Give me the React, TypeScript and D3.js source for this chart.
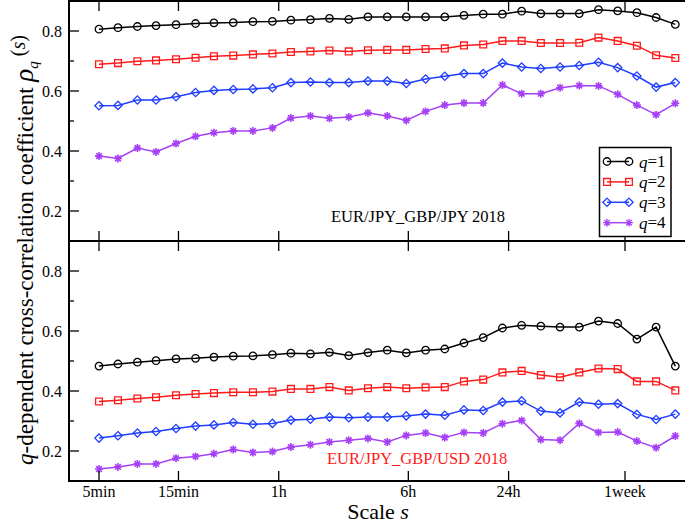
import * as d3 from 'd3';

// scale s in minutes (log-spaced sampling)
const SCALES = [5, 6.5, 8.5, 11, 14.5, 19, 24.5, 32, 42, 55, 71, 93, 121, 158, 206, 269, 350, 457, 596, 777, 1014, 1322, 1725, 2249, 2933, 3826, 4990, 6507, 8487, 11069, 14436];

const X_TICKS = [5, 15, 60, 360, 1440, 7200];
const X_TICK_LABELS = ['5min', '15min', '1h', '6h', '24h', '1week'];
const Y_MAJOR = [0.2, 0.4, 0.6, 0.8];
const Y_MINOR = [0.3, 0.5, 0.7];

const TOP_Q1 = [0.806, 0.811, 0.815, 0.818, 0.821, 0.825, 0.827, 0.828, 0.831, 0.832, 0.836, 0.838, 0.842, 0.839, 0.847, 0.847, 0.847, 0.847, 0.847, 0.852, 0.856, 0.856, 0.866, 0.858, 0.858, 0.858, 0.871, 0.867, 0.861, 0.845, 0.822];
const TOP_Q2 = [0.689, 0.693, 0.699, 0.702, 0.706, 0.711, 0.716, 0.718, 0.722, 0.725, 0.73, 0.732, 0.735, 0.732, 0.736, 0.737, 0.737, 0.74, 0.742, 0.752, 0.755, 0.767, 0.767, 0.76, 0.76, 0.761, 0.778, 0.767, 0.751, 0.719, 0.71];
const TOP_Q3 = [0.551, 0.552, 0.57, 0.57, 0.581, 0.595, 0.602, 0.605, 0.607, 0.611, 0.628, 0.63, 0.628, 0.628, 0.633, 0.633, 0.625, 0.64, 0.649, 0.658, 0.658, 0.693, 0.68, 0.675, 0.68, 0.685, 0.696, 0.678, 0.65, 0.613, 0.628];
const TOP_Q4 = [0.383, 0.375, 0.41, 0.397, 0.425, 0.449, 0.461, 0.467, 0.467, 0.477, 0.51, 0.517, 0.509, 0.513, 0.527, 0.517, 0.502, 0.532, 0.553, 0.56, 0.56, 0.62, 0.591, 0.591, 0.611, 0.618, 0.617, 0.589, 0.553, 0.521, 0.559];

const BOT_Q1 = [0.483, 0.49, 0.496, 0.501, 0.507, 0.509, 0.513, 0.516, 0.517, 0.521, 0.526, 0.524, 0.529, 0.518, 0.528, 0.536, 0.527, 0.536, 0.54, 0.56, 0.578, 0.61, 0.619, 0.616, 0.613, 0.613, 0.633, 0.625, 0.573, 0.613, 0.483];
const BOT_Q2 = [0.365, 0.369, 0.375, 0.379, 0.386, 0.39, 0.393, 0.396, 0.396, 0.398, 0.407, 0.407, 0.413, 0.402, 0.409, 0.413, 0.409, 0.412, 0.413, 0.432, 0.438, 0.462, 0.467, 0.453, 0.446, 0.462, 0.475, 0.473, 0.432, 0.432, 0.402];
const BOT_Q3 = [0.243, 0.251, 0.26, 0.265, 0.275, 0.283, 0.287, 0.295, 0.289, 0.292, 0.303, 0.306, 0.313, 0.311, 0.313, 0.313, 0.317, 0.323, 0.319, 0.337, 0.335, 0.363, 0.367, 0.333, 0.327, 0.363, 0.356, 0.358, 0.322, 0.305, 0.323];
const BOT_Q4 = [0.14, 0.147, 0.157, 0.157, 0.176, 0.182, 0.191, 0.205, 0.195, 0.198, 0.213, 0.221, 0.23, 0.236, 0.242, 0.23, 0.252, 0.26, 0.245, 0.262, 0.26, 0.291, 0.302, 0.238, 0.236, 0.292, 0.262, 0.263, 0.233, 0.211, 0.25];

const Q_LABELS = ['1', '2', '3', '4'];
const COLORS = ['#000000', '#ff1a1a', '#1f3dff', '#a540f5'];
type Marker = 'circle' | 'square' | 'diamond' | 'star';
const MARKERS: Marker[] = ['circle', 'square', 'diamond', 'star'];

const FONT = '"Liberation Serif", "Times New Roman", serif';

function markerPath(kind: Marker): string {
  if (kind === 'circle') return d3.symbol(d3.symbolCircle, 44)() ?? '';
  if (kind === 'square') return d3.symbol(d3.symbolSquare, 46)() ?? '';
  if (kind === 'diamond') return d3.symbol(d3.symbolDiamond2, 44)() ?? '';
  // 8-spoke asterisk
  const r = 4;
  const t = r * Math.SQRT1_2;
  return `M${-r},0L${r},0M0,${-r}L0,${r}M${-t},${-t}L${t},${t}M${-t},${t}L${t},${-t}`;
}

function Series({ values, i, x, y }: { values: number[]; i: number; x: d3.ScaleLogarithmic<number, number>; y: d3.ScaleLinear<number, number> }) {
  const line = d3.line<number>().x((_, k) => x(SCALES[k])).y(d => y(d));
  const color = COLORS[i];
  const m = markerPath(MARKERS[i]);
  return (
    <g>
      <path d={line(values) ?? ''} fill="none" stroke={color} strokeWidth={1.5} />
      {values.map((v, k) => (
        <path key={k} d={m} transform={`translate(${x(SCALES[k])},${y(v)})`}
          fill="none" stroke={color} strokeWidth={MARKERS[i] === 'star' ? 1.6 : 1.3} />
      ))}
    </g>
  );
}

export default function App() {
  const left = 69;
  const right = 692;
  const x = d3.scaleLog().domain([5, 7200]).range([99, 625]);
  const yTop = d3.scaleLinear().domain([0.1, 0.9]).range([241, 1]);
  const yBot = d3.scaleLinear().domain([0.1, 0.9]).range([481, 241]);

  const panels = [
    { y: yTop, series: [TOP_Q1, TOP_Q2, TOP_Q3, TOP_Q4], label: 'EUR/JPY_GBP/JPY 2018', labelColor: '#000', labelX: 331, labelY: 222 },
    { y: yBot, series: [BOT_Q1, BOT_Q2, BOT_Q3, BOT_Q4], label: 'EUR/JPY_GBP/USD 2018', labelColor: '#ff1a1a', labelX: 327, labelY: 464 },
  ];

  return (
    <svg width={685} height={525} style={{ position: 'absolute', left: 0, top: 0, background: '#fff' }} fontFamily={FONT}>
      {panels.map((p, pi) => {
        const [y0, y1] = p.y.range();
        return (
          <g key={pi}>
            {p.series.map((s, i) => <Series key={i} values={s} i={i} x={x} y={p.y} />)}

            {/* y ticks */}
            {Y_MAJOR.map(t => (
              <g key={t}>
                <line x1={left} x2={left + 10} y1={p.y(t)} y2={p.y(t)} stroke="#000" strokeWidth={1.3} />
                <text x={62} y={p.y(t)} textAnchor="end" dominantBaseline="central" fontSize={16}>{t.toFixed(1)}</text>
              </g>
            ))}
            {Y_MINOR.map(t => (
              <line key={t} x1={left} x2={left + 5} y1={p.y(t)} y2={p.y(t)} stroke="#000" strokeWidth={1.3} />
            ))}

            {/* x ticks top & bottom */}
            {X_TICKS.map(t => (
              <g key={t}>
                <line x1={x(t)} x2={x(t)} y1={y0} y2={y0 - 10} stroke="#000" strokeWidth={1.3} />
                <line x1={x(t)} x2={x(t)} y1={y1} y2={y1 + 10} stroke="#000" strokeWidth={1.3} />
              </g>
            ))}

            <rect x={left} y={y1} width={right - left} height={y0 - y1} fill="none" stroke="#000" strokeWidth={2} />

            <text x={p.labelX} y={p.labelY} fontSize={16.5} fill={p.labelColor}>{p.label}</text>
          </g>
        );
      })}

      {/* x tick labels */}
      {X_TICKS.map((t, i) => (
        <text key={t} x={x(t)} y={497} textAnchor="middle" fontSize={16}>{X_TICK_LABELS[i]}</text>
      ))}

      <text x={378} y={519} textAnchor="middle" fontSize={22}>
        Scale <tspan fontStyle="italic">s</tspan>
      </text>

      <text transform="translate(33,250) rotate(-90)" textAnchor="middle" fontSize={23}>
        <tspan fontStyle="italic">q</tspan>-dependent cross-correlation coefficient{' '}
        <tspan fontStyle="italic" fontSize={27}>ρ</tspan>
        <tspan fontStyle="italic" fontSize={15} dy={5}>q</tspan>
        <tspan fontSize={20} dy={-13}> (</tspan>
        <tspan fontSize={20} fontStyle="italic">s</tspan>
        <tspan fontSize={20}>)</tspan>
      </text>

      {/* legend */}
      <g>
        <rect x={599.5} y={147.5} width={71.5} height={89} fill="#fff" stroke="#000" strokeWidth={1.5} />
        {Q_LABELS.map((q, i) => {
          const ly = 161.5 + i * 20.4;
          const m = markerPath(MARKERS[i]);
          return (
            <g key={q}>
              <line x1={607} x2={629} y1={ly} y2={ly} stroke={COLORS[i]} strokeWidth={1.5} />
              {[607, 629].map(mx => (
                <path key={mx} d={m} transform={`translate(${mx},${ly})`} fill="none" stroke={COLORS[i]} strokeWidth={1.3} />
              ))}
              <text x={639} y={ly} dominantBaseline="central" fontSize={17}>
                <tspan fontStyle="italic">q</tspan>={q}
              </text>
            </g>
          );
        })}
      </g>
    </svg>
  );
}
